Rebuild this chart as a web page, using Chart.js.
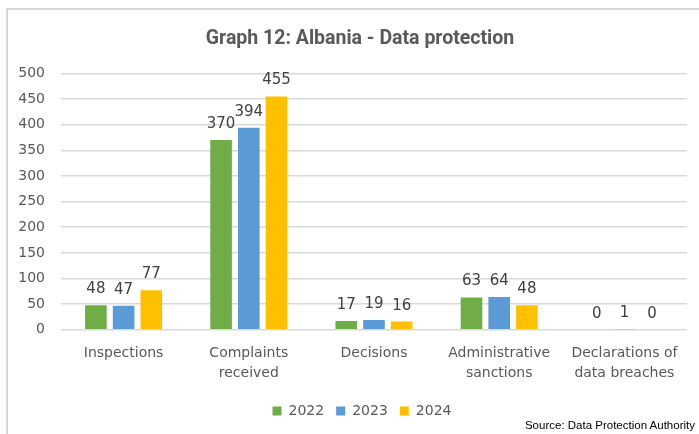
<!DOCTYPE html>
<html>
<head>
<meta charset="utf-8">
<script src="https://cdn.jsdelivr.net/npm/chart.js@4"></script>
<style>
  html, body { margin: 0; padding: 0; background: #fff; overflow: hidden; }
  #wrap { position: relative; width: 699px; height: 434px; }
  #frame { position: absolute; left: 6px; top: 8px; width: 760px; height: 500px; border: 2px solid #d9d9d9; box-sizing: border-box; }
  #chart { position: absolute; left: 0; top: 0; }
  #source { position: absolute; right: 4px; top: 419px; font: 11.5px "Liberation Sans", Arial, sans-serif; color: #000; }
</style>
</head>
<body>
<div id="wrap">
  <div id="frame"></div>
  <canvas id="chart" width="699" height="434"></canvas>
  <div id="source">Source: Data Protection Authority</div>
</div>
<script>
const categories = [
  "Inspections",
  ["Complaints", "received"],
  "Decisions",
  ["Administrative", "sanctions"],
  ["Declarations of", "data breaches"],
];
const years = ["2022", "2023", "2024"];
const values2022 = [48, 370, 17, 63, 0];
const values2023 = [47, 394, 19, 64, 1];
const values2024 = [77, 455, 16, 48, 0];
const yTicks = [0, 50, 100, 150, 200, 250, 300, 350, 400, 450, 500];

const colors = ["#70AD47", "#5B9BD5", "#FFC000"];
const textFont = "DejaVu Sans";

// Draw the value above each bar
const barLabels = {
  id: "barLabels",
  afterDatasetsDraw(chart) {
    const ctx = chart.ctx;
    ctx.save();
    ctx.font = '15px "' + textFont + '"';
    ctx.fillStyle = "#404040";
    ctx.textAlign = "center";
    ctx.textBaseline = "alphabetic";
    chart.data.datasets.forEach((ds, i) => {
      chart.getDatasetMeta(i).data.forEach((bar, j) => {
        ctx.fillText(ds.data[j], bar.x, bar.y - 12);
      });
    });
    ctx.restore();
  },
};

// Title and legend sit a bit right of the canvas centre in the original
const shiftBlocks = {
  id: "shiftBlocks",
  afterLayout(chart) {
    chart.titleBlock.left += 24;
    chart.legend.left += 28;
  },
};

const ctx = document.getElementById("chart").getContext("2d");
new Chart(ctx, {
  type: "bar",
  data: {
    labels: categories,
    datasets: [
      { label: years[0], data: values2022, backgroundColor: colors[0] },
      { label: years[1], data: values2023, backgroundColor: colors[1] },
      { label: years[2], data: values2024, backgroundColor: colors[2] },
    ],
  },
  options: {
    responsive: false,
    animation: false,
    layout: { padding: { left: 9, right: 12, top: 0, bottom: 6 } },
    plugins: {
      title: {
        display: true,
        text: "Graph 12: Albania - Data protection",
        color: "#595959",
        font: { family: "Roboto", size: 19.5, weight: "bold" },
        padding: { top: 27, bottom: 23 },
      },
      legend: {
        position: "bottom",
        labels: {
          boxWidth: 9,
          boxHeight: 9,
          color: "#595959",
          font: { family: textFont, size: 14 },
          padding: 12,
        },
      },
      tooltip: { enabled: false },
    },
    datasets: {
      bar: { categoryPercentage: 0.664, barPercentage: 0.78 },
    },
    scales: {
      x: {
        afterFit(scale) { scale.height += 3; },
        grid: { display: false },
        border: { display: false },
        ticks: {
          color: "#595959",
          font: { family: textFont, size: 14, lineHeight: 1.4 },
          maxRotation: 0,
          padding: 6,
        },
      },
      y: {
        min: 0,
        max: 500,
        afterFit(scale) { scale.width = 52; },
        afterBuildTicks(scale) { scale.ticks = yTicks.map((v) => ({ value: v })); },
        grid: { color: "#d9d9d9", lineWidth: 1.5, drawTicks: false },
        border: { display: false },
        ticks: {
          color: "#595959",
          font: { family: textFont, size: 14 },
          padding: 16,
        },
      },
    },
  },
  plugins: [barLabels, shiftBlocks],
});
</script>
</body>
</html>
